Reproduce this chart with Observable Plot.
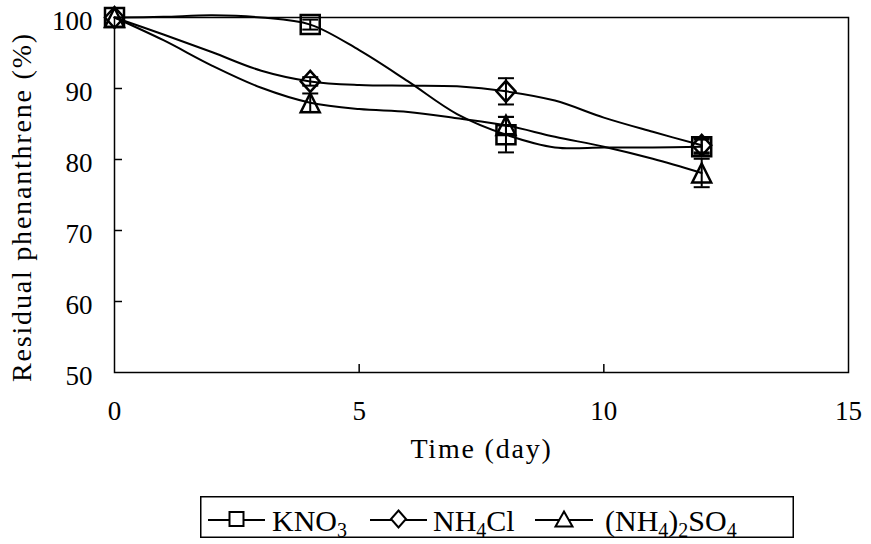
<!DOCTYPE html>
<html><head><meta charset="utf-8">
<script src="https://cdn.jsdelivr.net/npm/d3@7"></script>
<script src="https://cdn.jsdelivr.net/npm/@observablehq/plot@0.6"></script>
<style>
body{margin:0;background:#fff;}
#wrap{position:relative;width:871px;height:544px;background:#fff;}
#legend{position:absolute;left:200px;top:496px;overflow:visible;}
</style></head>
<body><div id="wrap"></div>
<script>
// ---- data ----
const seriesNames = ["KNO3", "NH4Cl", "(NH4)2SO4"];
const days = [0, 4, 8, 12];
const kno3 = [100, 99.0, 83.5, 81.8];
const kno3Err = [0, 0.7, 2.5, 1.0];
const nh4cl = [100, 91.0, 89.6, 82.0];
const nh4clErr = [0, 0.6, 1.85, 1.0];
const nh42so4 = [100, 88.0, 84.8, 78.1];
const nh42so4Err = [0, 1.3, 1.2, 2.0];
const lineDays = [0, 1, 2, 3, 4, 5, 6, 7, 8, 9, 10, 11, 12];
const kno3Line = [100, 100.1, 100.3, 100.0, 99.0, 95.4, 91.0, 86.4, 83.5, 81.7, 81.7, 81.7, 81.8];
const nh4clLine = [100, 97.6, 95.1, 92.5, 91.0, 90.5, 90.4, 90.3, 89.6, 88.3, 85.9, 83.9, 82.0];
const nh42so4Line = [100, 96.8, 93.2, 90.1, 88.0, 87.1, 86.7, 85.8, 84.8, 83.2, 81.8, 80.1, 78.1];
const xTicks = [0, 5, 10, 15];
const yTicks = [50, 60, 70, 80, 90, 100];
const xInnerTicks = [5, 10];
const yInnerTicks = [60, 70, 80, 90];
const xLabel = "Time (day)";
const yLabel = "Residual phenanthrene (%)";

// ---- symbols ----
const symSquare = {draw(c){const h=9.5;c.moveTo(-h,-h);c.lineTo(h,-h);c.lineTo(h,h);c.lineTo(-h,h);c.closePath();}};
const symDiamond = {draw(c){const w=9.5,h=10.5;c.moveTo(0,-h);c.lineTo(w,0);c.lineTo(0,h);c.lineTo(-w,0);c.closePath();}};
const symTriangle = {draw(c){const w=9.5,h=9.5;c.moveTo(0,-h);c.lineTo(w,h);c.lineTo(-w,h);c.closePath();}};
const symCap = {draw(c){c.moveTo(-8,0);c.lineTo(8,0);}};

const series = [
  {name: seriesNames[0], values: kno3, err: kno3Err, line: kno3Line, symbol: symSquare},
  {name: seriesNames[1], values: nh4cl, err: nh4clErr, line: nh4clLine, symbol: symDiamond},
  {name: seriesNames[2], values: nh42so4, err: nh42so4Err, line: nh42so4Line, symbol: symTriangle}
];

const W = 871, H = 490, mL = 114, mR = 23, mT = 17, mB = 118;
const plotW = W - mL - mR, plotH = H - mT - mB;

const marks = [
  Plot.frame({stroke: "black", strokeWidth: 1.5}),
  Plot.tickY(yInnerTicks, {y: d => d, stroke: "black", strokeWidth: 1.5, insetRight: plotW - 8}),
  Plot.tickX(xInnerTicks, {x: d => d, stroke: "black", strokeWidth: 1.5, insetTop: plotH - 8}),
  Plot.axisX(xTicks, {tickSize: 0, tickPadding: 28, label: null, fontSize: 27}),
  Plot.axisY(yTicks, {tickSize: 0, tickPadding: 22, dy: 4, label: null, fontSize: 27}),
  Plot.text([xLabel], {text: d => d, frameAnchor: "bottom", textAnchor: "middle", dy: 85, fontSize: 28}),
  Plot.text([yLabel], {text: d => d, frameAnchor: "left", textAnchor: "middle", rotate: -90, dx: -92, dy: 12, fontSize: 28})
];

for (const s of series) {
  const ld = lineDays.map((d, i) => ({day: d, value: s.line[i]}));
  marks.push(Plot.line(ld, {x: "day", y: "value", curve: "catmull-rom", stroke: "black", strokeWidth: 2}));
}
for (const s of series) {
  const md = days.map((d, i) => ({day: d, value: s.values[i], err: s.err[i]}));
  const ed = md.filter(d => d.err > 0);
  marks.push(Plot.ruleX(ed, {x: "day", y1: d => d.value - d.err, y2: d => d.value + d.err, stroke: "black", strokeWidth: 2}));
  marks.push(Plot.dot(ed, {x: "day", y: d => d.value - d.err, symbol: symCap, r: 5, stroke: "black", strokeWidth: 2, fill: "none"}));
  marks.push(Plot.dot(ed, {x: "day", y: d => d.value + d.err, symbol: symCap, r: 5, stroke: "black", strokeWidth: 2, fill: "none"}));
  marks.push(Plot.dot(md, {x: "day", y: "value", symbol: s.symbol, r: 5, stroke: "black", strokeWidth: 2.5, fill: "none"}));
}

const plot = Plot.plot({
  width: W, height: H, marginLeft: mL, marginRight: mR, marginTop: mT, marginBottom: mB,
  x: {domain: [0, 15]},
  y: {domain: [50, 100]},
  style: {fontFamily: '"Liberation Serif", "Times New Roman", serif', fontSize: "26px", color: "black", background: "white", overflow: "visible"},
  marks
});
const wrap = document.getElementById("wrap");
wrap.appendChild(plot);
d3.select(plot).selectAll("text")
  .filter(function () { return this.textContent === xLabel || this.textContent === yLabel; })
  .style("letter-spacing", "1.8px");

// ---- legend ----
const LW = 594, LH = 42;
const leg = d3.select(wrap).append("svg").attr("id", "legend").attr("width", LW).attr("height", LH + 6)
  .style("font-family", '"Liberation Serif", "Times New Roman", serif');
leg.append("rect").attr("x", 0.75).attr("y", 0.75).attr("width", LW - 1.5).attr("height", LH - 1.5)
  .attr("fill", "white").attr("stroke", "black").attr("stroke-width", 1.5);
const lineStart = [8, 170, 335], lineEnd = [65, 227, 393], textX = [72, 233, 405];
const legSyms = [
  c => { const h = 7; c.moveTo(-h,-h); c.lineTo(h,-h); c.lineTo(h,h); c.lineTo(-h,h); c.closePath(); },
  c => { const w = 7.5, h = 8.5; c.moveTo(0,-h); c.lineTo(w,0); c.lineTo(0,h); c.lineTo(-w,0); c.closePath(); },
  c => { const w = 8.5, h = 7.5; c.moveTo(0,-h); c.lineTo(w,h); c.lineTo(-w,h); c.closePath(); }
];
series.forEach((s, i) => {
  const cy = 24, cx = (lineStart[i] + lineEnd[i]) / 2;
  leg.append("line").attr("x1", lineStart[i]).attr("x2", lineEnd[i]).attr("y1", cy).attr("y2", cy)
    .attr("stroke", "black").attr("stroke-width", 2);
  const p = d3.path(); legSyms[i](p);
  leg.append("path").attr("d", p.toString()).attr("transform", `translate(${cx},${cy - 1})`)
    .attr("fill", "white").attr("stroke", "black").attr("stroke-width", 2);
  const t = leg.append("text").attr("x", textX[i]).attr("y", 35).attr("font-size", 30).attr("fill", "black");
  const parts = s.name.split(/(\d)/).filter(x => x !== "");
  let sub = false;
  parts.forEach(part => {
    const isDigit = /^\d$/.test(part);
    const ts = t.append("tspan").text(part);
    if (isDigit && !sub) { ts.attr("dy", 6).attr("font-size", 20); sub = true; }
    else if (isDigit && sub) { ts.attr("font-size", 20); }
    else if (!isDigit && sub) { ts.attr("dy", -6); sub = false; }
  });
});
</script>
</body></html>
